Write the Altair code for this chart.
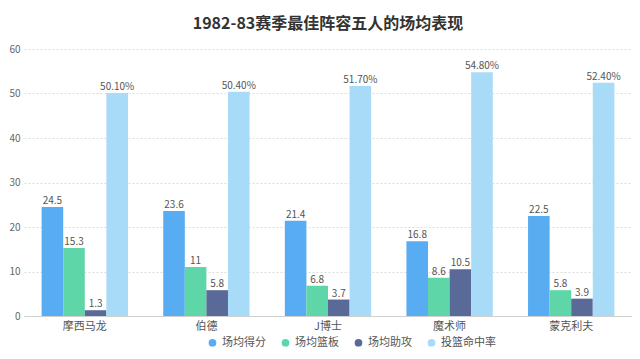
import altair as alt
import pandas as pd

players = ["摩西马龙", "伯德", "J博士", "魔术师", "蒙克利夫"]
series = ["场均得分", "场均篮板", "场均助攻", "投篮命中率"]
points = [24.5, 23.6, 21.4, 16.8, 22.5]
rebounds = [15.3, 11, 6.8, 8.6, 5.8]
assists = [1.3, 5.8, 3.7, 10.5, 3.9]
fg_pct = [50.1, 50.4, 51.7, 54.8, 52.4]
colors = ["#58acf2", "#5fd6a7", "#596a98", "#a7dbf7"]

rows = []
for i, p in enumerate(players):
    for s, vals in zip(series, [points, rebounds, assists, fg_pct]):
        v = vals[i]
        if s == "投篮命中率":
            label = f"{v:.2f}%"
        else:
            label = f"{v:g}"
        rows.append({"player": p, "series": s, "value": v, "label": label})
df = pd.DataFrame(rows)

font = "Noto Sans CJK SC"

x = alt.X("player:N", sort=players, title=None,
          scale=alt.Scale(paddingInner=0.29, paddingOuter=0.145),
          axis=alt.Axis(labelAngle=0, ticks=False, domainColor="#d0d0d0",
                        labelColor="#555", labelFontSize=11, labelPadding=4, labelFont=font))
xo = alt.XOffset("series:N", sort=series, scale=alt.Scale(paddingInner=0, paddingOuter=0))
y = alt.Y("value:Q", title=None, scale=alt.Scale(domain=[0, 60]),
          axis=alt.Axis(values=[0, 10, 20, 30, 40, 50, 60], ticks=False, domain=False,
                        gridDash=[2, 2], gridColor="#dddddd", labelColor="#666",
                        labelFontSize=10, labelPadding=4, labelFont=font))

base = alt.Chart(df).encode(x=x, xOffset=xo, y=y)

bars = base.mark_bar().encode(
    color=alt.Color("series:N", sort=series,
                    scale=alt.Scale(domain=series, range=colors),
                    legend=alt.Legend(title=None, orient="none", direction="horizontal",
                                      legendX=183, legendY=288,
                                      symbolType="circle", symbolSize=60, labelFontSize=11,
                                      labelColor="#555", labelFont=font, columnPadding=14))
)

text = base.mark_text(dy=-6, fontSize=10, color="#555", font=font).encode(text="label:N")

chart = (bars + text).properties(
    width=608, height=267,
    padding={"left": 0, "top": 8, "right": 0, "bottom": 0},
    title=alt.TitleParams("1982-83赛季最佳阵容五人的场均表现", fontSize=16, font=font,
                          fontWeight="bold", color="#333", anchor="middle", offset=12)
).configure_view(stroke=None)

chart.save("out.html", embed_options={"renderer": "svg", "actions": False})
